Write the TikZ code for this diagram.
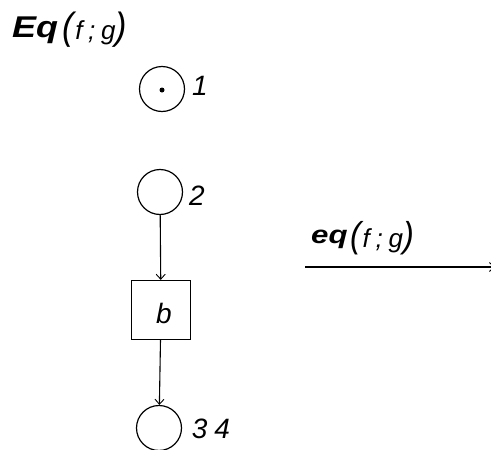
\documentclass[tikz,border=0pt]{standalone}
\usepackage{fontspec}
\setmainfont{Liberation Sans}
\newfontfamily\spaced[LetterSpace=25]{Liberation Sans}
\newfontfamily\spacedb[LetterSpace=22]{Liberation Sans}
\usetikzlibrary{arrows.meta}
\tikzset{
  place/.style={circle,draw,line width=1.2pt,minimum size=45pt,inner sep=0pt},
  trans/.style={rectangle,draw,line width=1.2pt,minimum size=59pt,inner sep=0pt},
  lbl/.style={inner sep=0pt,font=\fontsize{28}{30}\selectfont\itshape},
  arc/.style={line width=1.1pt,-{Straight Barb[length=5pt,width=9pt,line width=0.9pt]}},
  token/.style={circle,fill,inner sep=0pt,minimum size=5pt}
}
\begin{document}
\begin{tikzpicture}[x=1pt,y=-1pt]
\useasboundingbox (0,0) rectangle (491,450);
% title
\node[anchor=base west,inner sep=0pt] (title) at (12,37)
  {\scalebox{1.2}[1]{\fontsize{30}{32}\selectfont\bfseries\itshape Eq}};
\node[anchor=base west,inner sep=0pt] (titlearg) at (62,39)
  {\scalebox{0.9}[1]{\fontsize{38}{40}\selectfont\itshape (}\,\spacedb\fontsize{26}{28}\selectfont\itshape f;g\scalebox{0.9}[1]{\fontsize{38}{40}\selectfont\itshape )}};
% places and transition
\node[place] (p1) at (162,89) {};
\node[token] (tok) at (162,90) {};
\node[lbl,anchor=center] (l1) at (200,86) {1};
\node[place] (p2) at (160,192) {};
\node[lbl,anchor=center] (l2) at (197,196) {2};
\node[trans] (b) at (161,310) {};
\node[lbl,anchor=center] (lb) at (164,313) {b};
\node[place] (p34) at (159,428) {};
\node[lbl,anchor=center] (l34) at (211,429) {\spaced 34};
\draw[arc] (p2) -- (b);
\draw[arc] (b) -- (p34);
% eq morphism
\node[anchor=base west,inner sep=0pt] (eqlab) at (311,243)
  {\scalebox{1.25}[1]{\fontsize{25}{27}\selectfont\bfseries\itshape eq}};
\node[anchor=base west,inner sep=0pt] (eqarg) at (350,247)
  {\scalebox{0.9}[1]{\fontsize{36}{38}\selectfont\itshape (}\,\spacedb\fontsize{26}{28}\selectfont\itshape f;g\scalebox{0.9}[1]{\fontsize{36}{38}\selectfont\itshape )}};
\coordinate (eqs) at (305,267);
\coordinate (eqt) at (495,267);
\draw[arc] (eqs) -- (eqt);
\end{tikzpicture}
\end{document}
